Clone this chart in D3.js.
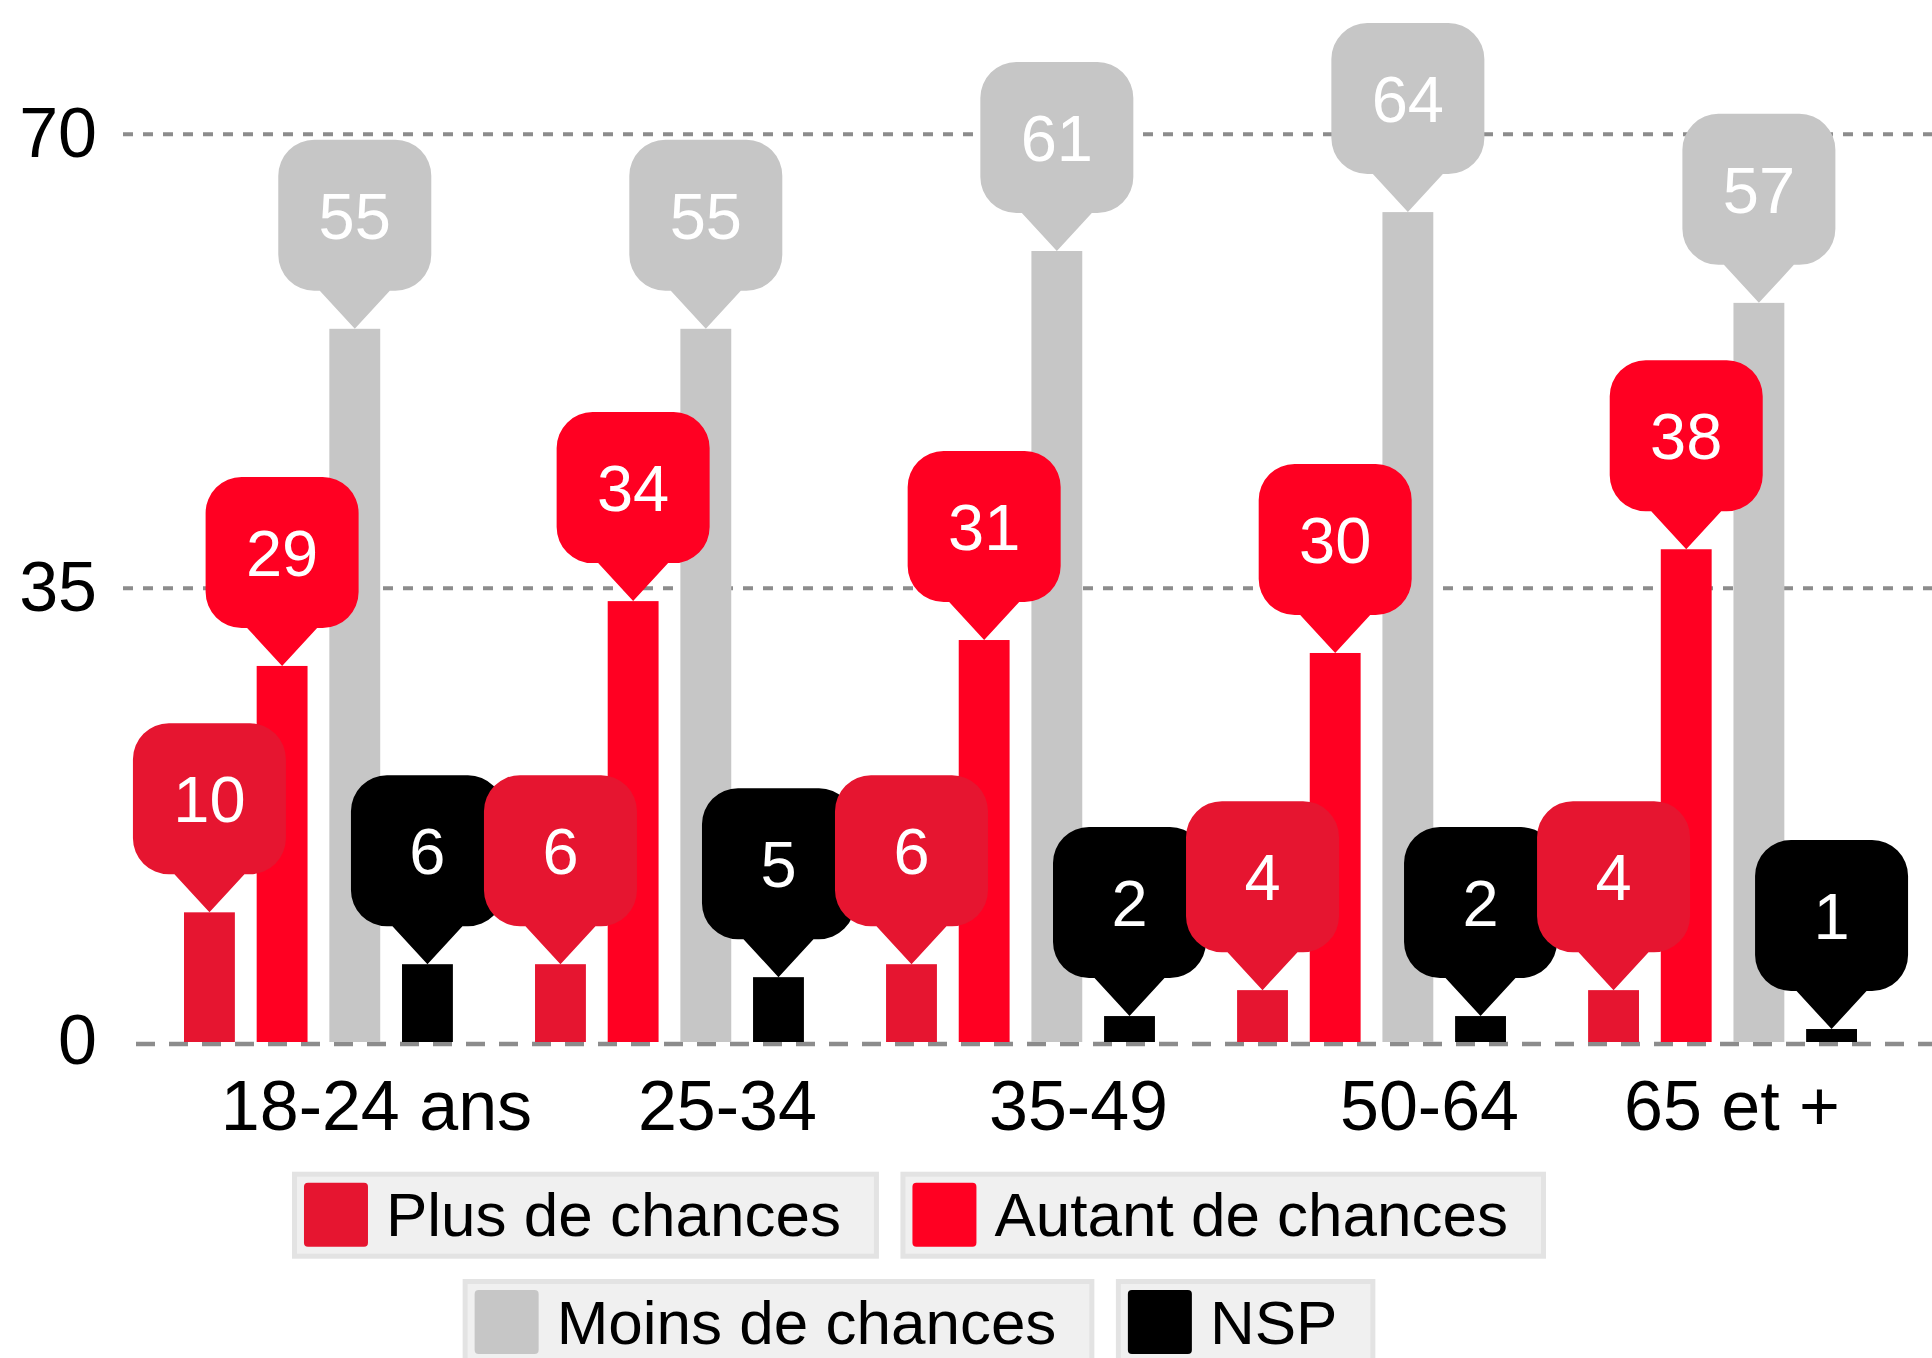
<!DOCTYPE html>
<html>
<head>
<meta charset="utf-8">
<script src="https://cdnjs.cloudflare.com/ajax/libs/d3/7.8.5/d3.min.js"></script>
<style>
  body { margin: 0; background: #fff; }
  svg text { font-family: "Liberation Sans", Arial, sans-serif; }
</style>
</head>
<body>
<div id="chart"></div>
<script>
// data
var categories = ["18-24 ans", "25-34", "35-49", "50-64", "65 et +"];
var seriesNames = ["Plus de chances", "Autant de chances", "Moins de chances", "NSP"];
var seriesColors = ["#e61530", "#ff0022", "#c6c6c6", "#000000"];
var plusValues = [10, 6, 6, 4, 4];
var autantValues = [29, 34, 31, 30, 38];
var moinsValues = [55, 55, 61, 64, 57];
var nspValues = [6, 5, 2, 2, 1];
var yTicks = [0, 35, 70];

var seriesValues = [plusValues, autantValues, moinsValues, nspValues];

var W = 1932, H = 1358;

var svg = d3.select("#chart")
  .append("svg")
  .attr("width", W)
  .attr("height", H)

// scales
var x0 = d3.scaleBand()
  .domain(categories)
  .range([184, 1857])
  .paddingInner(0.234)

var x1 = d3.scaleBand()
  .domain(seriesNames)
  .range([0, x0.bandwidth()])
  .paddingInner(0.3)

var y = d3.scaleLinear()
  .domain([0, 70])
  .range([1042, 134.3])

var color = d3.scaleOrdinal().domain(seriesNames).range(seriesColors)

// grid lines
svg.selectAll(".grid")
  .data(yTicks.filter(function(d) { return d > 0 }))
  .enter()
  .append("line")
  .attr("class", "grid")
  .attr("x1", 123).attr("x2", W)
  .attr("y1", function(d) { return y(d) })
  .attr("y2", function(d) { return y(d) })
  .attr("stroke", "#8c8c8c")
  .attr("stroke-width", 4)
  .attr("stroke-dasharray", "10,10")

// zero line
svg.append("line")
  .attr("x1", 123).attr("x2", W)
  .attr("y1", y(0) + 2).attr("y2", y(0) + 2)
  .attr("stroke", "#8c8c8c")
  .attr("stroke-width", 4.5)
  .attr("stroke-dasharray", "19,14")
  .attr("stroke-dashoffset", 20)

// y tick labels
svg.selectAll(".ytick")
  .data(yTicks)
  .enter()
  .append("text")
  .attr("class", "ytick")
  .attr("x", 97)
  .attr("y", function(d) { return y(d) })
  .attr("dy", "0.32em")
  .attr("text-anchor", "end")
  .style("font-size", "70px")
  .attr("fill", "#000")
  .text(function(d) { return d })

// rows: one per category, one cell per series
var rows = categories.map(function(c, i) {
  return {
    cat: c,
    cells: seriesNames.map(function(s, j) {
      return { cat: c, series: s, value: seriesValues[j][i] }
    })
  }
})

// bars
var groups = svg.selectAll(".group")
  .data(rows)
  .enter()
  .append("g")
  .attr("class", "group")
  .attr("transform", function(d) { return "translate(" + x0(d.cat) + ",0)" })

groups.selectAll("rect")
  .data(function(d) { return d.cells })
  .enter()
  .append("rect")
  .attr("x", function(d) { return x1(d.series) })
  .attr("width", x1.bandwidth())
  .attr("y", function(d) { return y(d.value) })
  .attr("height", function(d) { return y(0) - y(d.value) })
  .attr("fill", function(d) { return color(d.series) })

// callout bubbles, drawn group by group on top of the bars
function bubblePath(cx, tip) {
  var w = 153, h = 151, r = 36, pw = 35, ph = 38
  var l = cx - w / 2, rr = cx + w / 2, b = tip - ph, t = b - h
  return "M" + (l + r) + "," + t +
    "H" + (rr - r) +
    "A" + r + "," + r + " 0 0 1 " + rr + "," + (t + r) +
    "V" + (b - r) +
    "A" + r + "," + r + " 0 0 1 " + (rr - r) + "," + b +
    "H" + (cx + pw) +
    "L" + cx + "," + tip +
    "L" + (cx - pw) + "," + b +
    "H" + (l + r) +
    "A" + r + "," + r + " 0 0 1 " + l + "," + (b - r) +
    "V" + (t + r) +
    "A" + r + "," + r + " 0 0 1 " + (l + r) + "," + t + "Z"
}

var bubbleLayer = svg.append("g")
rows.forEach(function(row) {
  row.cells.forEach(function(d) {
    var cx = x0(d.cat) + x1(d.series) + x1.bandwidth() / 2
    var tip = y(d.value)
    var g = bubbleLayer.append("g")
    g.append("path")
      .attr("d", bubblePath(cx, tip))
      .attr("fill", color(d.series))
    g.append("text")
      .attr("x", cx)
      .attr("y", tip - 38 - 75.5)
      .attr("dy", "0.36em")
      .attr("text-anchor", "middle")
      .attr("fill", "#fff")
      .style("font-size", "65px")
      .text(d.value)
  })
})

// category labels
svg.selectAll(".xlab")
  .data(categories)
  .enter()
  .append("text")
  .attr("class", "xlab")
  .attr("y", 1130)
  .attr("text-anchor", "middle")
  .style("font-size", "70px")
  .attr("fill", "#000")
  .text(function(d) { return d })
  .attr("x", function(d) {
    var len = this.getComputedTextLength()
    var cx = x0(d) + x0.bandwidth() / 2 + 58
    return Math.min(cx, 1840 - len / 2)
  })

// legend
var legendRows = [[0, 1], [2, 3]]
var legendTop = [1171.7, 1279]
var legendCenter = 919
var itemGap = 21.5

legendRows.forEach(function(idx, r) {
  var lg = svg.append("g")
  var xpos = 0
  var items = idx.map(function(i) {
    var item = lg.append("g")
    var txt = item.append("text")
      .attr("x", 94)
      .attr("y", 64.5)
      .style("font-size", "62px")
      .attr("fill", "#000")
      .text(seriesNames[i])
    var w = 94 + txt.node().getComputedTextLength() + 38
    item.insert("rect", "text")
      .attr("x", 2.5).attr("y", 2.5)
      .attr("width", w - 5).attr("height", 82)
      .attr("fill", "#f0f0f0")
      .attr("stroke", "#e3e3e3")
      .attr("stroke-width", 5)
    item.insert("rect", "text")
      .attr("x", 12).attr("y", 11)
      .attr("width", 64).attr("height", 64)
      .attr("rx", 4)
      .attr("fill", seriesColors[i])
    item.attr("transform", "translate(" + xpos + ",0)")
    xpos += w + itemGap
    return w
  })
  var total = xpos - itemGap
  lg.attr("transform", "translate(" + (legendCenter - total / 2) + "," + legendTop[r] + ")")
})
</script>
</body>
</html>
